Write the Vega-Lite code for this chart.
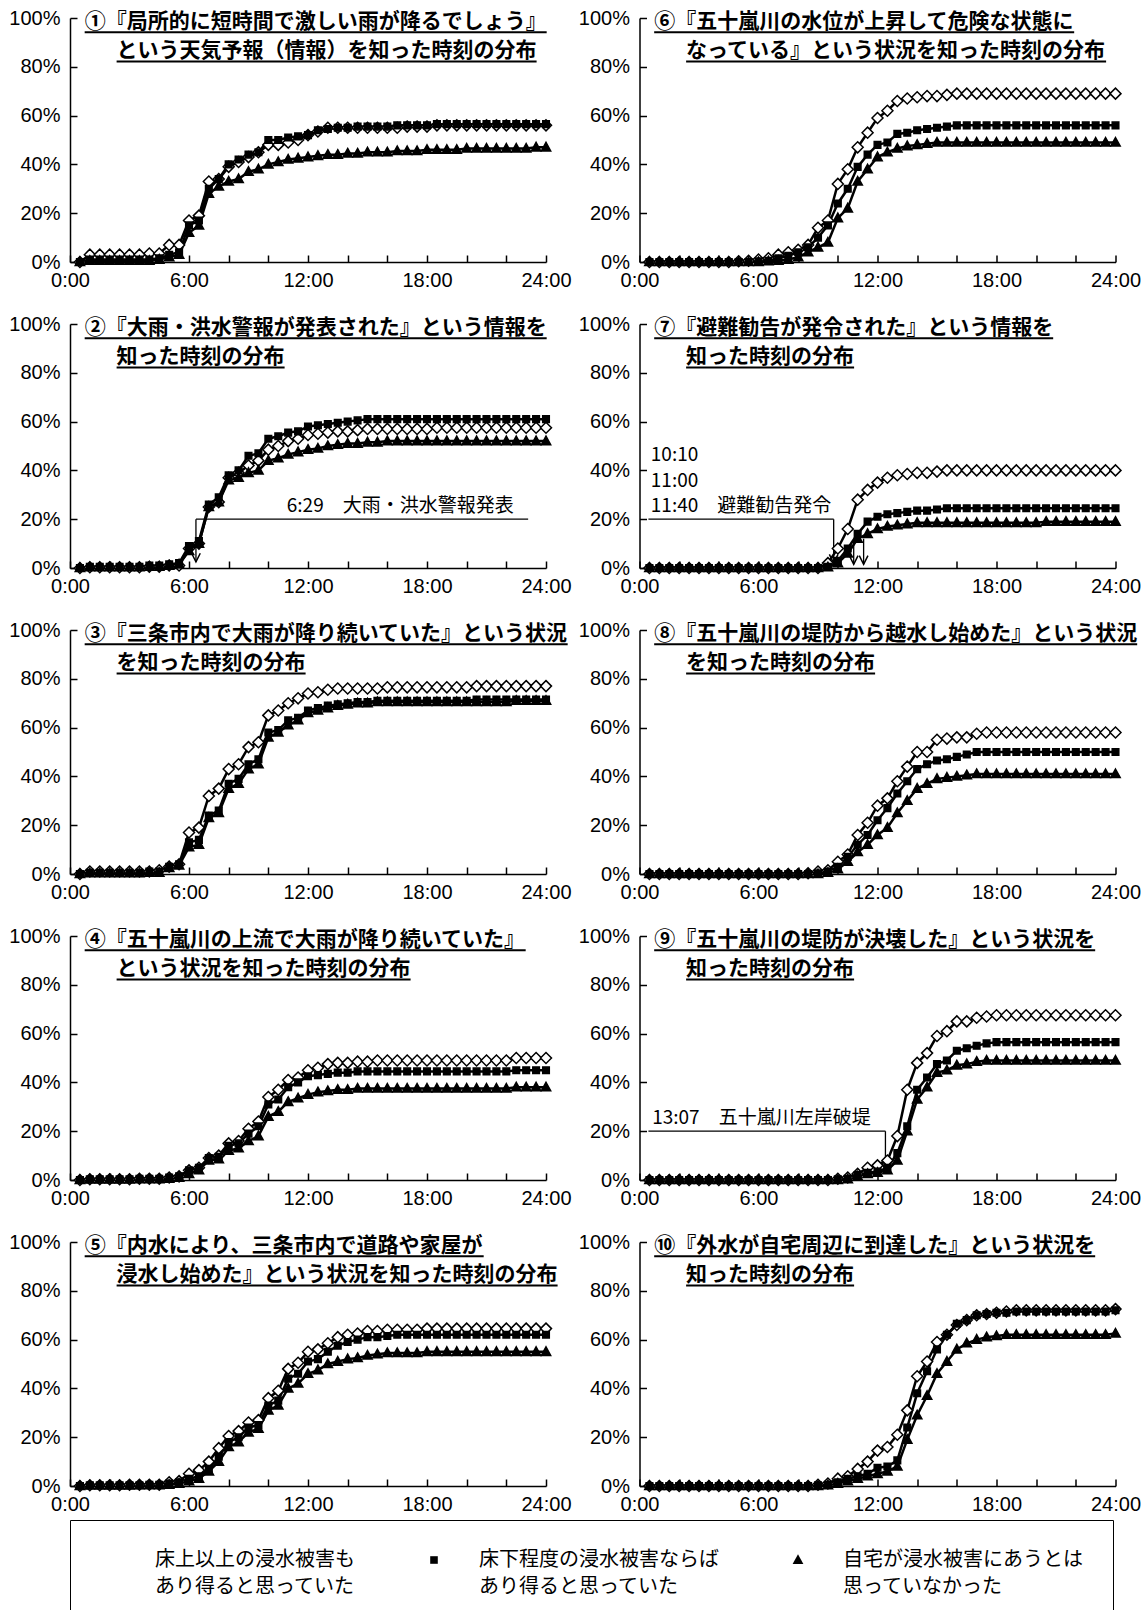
{
"$schema":"https://vega.github.io/schema/vega-lite/v6.json",
"padding":{"left":8,"top":8,"right":5,"bottom":0},
"autosize":{"type":"pad"},
"background":"white",
"config":{
"view":{"stroke":null},
"font":"Noto Sans CJK JP",
"style":{"guide-label":{"lineHeight":27}},
"header":{"labels":false,"title":null,"labelFontSize":0,"labelPadding":0},
"headerFacet":{"labels":false,"title":null,"labelFontSize":0,"labelPadding":0},
"axis":{"grid":false,"title":null,"domainColor":"black","domainWidth":1.5,"tickColor":"black","tickWidth":1.5,"tickSize":-7,"labelColor":"black","labelFont":"Liberation Sans","labelFontSize":20,"labelOverlap":false,"labelFlush":false},
"axisX":{"values":[0,3,6,9,12,15,18,21,24],"labelExpr":"datum.value % 6 == 0 ? datum.value + ':00' : ''","labelPadding":15},
"axisY":{"values":[0,20,40,60,80,100],"labelExpr":"datum.value + '%'","labelPadding":17}
},
"data":{"values":[
{"p":1,"l":1,"txt":"①『局所的に短時間で激しい雨が降るでしょう』"},{"p":1,"l":2,"txt":"という天気予報（情報）を知った時刻の分布"},
{"p":2,"l":1,"txt":"②『大雨・洪水警報が発表された』という情報を"},{"p":2,"l":2,"txt":"知った時刻の分布"},
{"p":3,"l":1,"txt":"③『三条市内で大雨が降り続いていた』という状況"},{"p":3,"l":2,"txt":"を知った時刻の分布"},
{"p":4,"l":1,"txt":"④『五十嵐川の上流で大雨が降り続いていた』"},{"p":4,"l":2,"txt":"という状況を知った時刻の分布"},
{"p":5,"l":1,"txt":"⑤『内水により、三条市内で道路や家屋が"},{"p":5,"l":2,"txt":"浸水し始めた』という状況を知った時刻の分布"},
{"p":6,"l":1,"txt":"⑥『五十嵐川の水位が上昇して危険な状態に"},{"p":6,"l":2,"txt":"なっている』という状況を知った時刻の分布"},
{"p":7,"l":1,"txt":"⑦『避難勧告が発令された』という情報を"},{"p":7,"l":2,"txt":"知った時刻の分布"},
{"p":8,"l":1,"txt":"⑧『五十嵐川の堤防から越水し始めた』という状況"},{"p":8,"l":2,"txt":"を知った時刻の分布"},
{"p":9,"l":1,"txt":"⑨『五十嵐川の堤防が決壊した』という状況を"},{"p":9,"l":2,"txt":"知った時刻の分布"},
{"p":10,"l":1,"txt":"⑩『外水が自宅周辺に到達した』という状況を"},{"p":10,"l":2,"txt":"知った時刻の分布"},
{"p":2,"k":"n","x":10.93,"txt":"6:29　大雨・洪水警報発表"},
{"p":2,"k":"h","x1":6.35,"x2":23.1},
{"p":2,"k":"v","x":6.35,"y1":20,"y2":2.5},
{"p":7,"k":"n","x":0.57,"txt":["10:10","11:00","11:40　避難勧告発令"]},
{"p":7,"k":"h","x1":0.45,"x2":9.79},
{"p":7,"k":"v","x":9.79,"y1":20,"y2":2},
{"p":7,"k":"v","x":10.8,"y1":12,"y2":1.5},
{"p":7,"k":"v","x":11.3,"y1":12,"y2":1.5},
{"p":9,"k":"n","x":0.64,"txt":"13:07　五十嵐川左岸破堤"},
{"p":9,"k":"h","x1":0.45,"x2":12.4},
{"p":9,"k":"v","x":12.4,"y1":20,"y2":4},
{"p":1,"t":0.5,"a":0,"b":0,"c":0},{"p":1,"t":1,"a":3,"b":1,"c":0.5},{"p":1,"t":1.5,"a":3,"b":1,"c":0.5},{"p":1,"t":2,"a":3,"b":1,"c":0.5},{"p":1,"t":2.5,"a":3,"b":1,"c":0.5},{"p":1,"t":3,"a":3,"b":1,"c":0.5},{"p":1,"t":3.5,"a":3,"b":1,"c":0.5},{"p":1,"t":4,"a":3.5,"b":1,"c":0.5},{"p":1,"t":4.5,"a":3.5,"b":1.5,"c":1},{"p":1,"t":5,"a":7,"b":3,"c":2},{"p":1,"t":5.5,"a":7,"b":4,"c":3},{"p":1,"t":6,"a":17,"b":15,"c":12},{"p":1,"t":6.5,"a":19,"b":17,"c":15},{"p":1,"t":7,"a":33,"b":30,"c":28},{"p":1,"t":7.5,"a":34,"b":34,"c":31},{"p":1,"t":8,"a":39,"b":40,"c":33},{"p":1,"t":8.5,"a":41,"b":42,"c":34},{"p":1,"t":9,"a":43,"b":44,"c":37},{"p":1,"t":9.5,"a":45,"b":45,"c":38},{"p":1,"t":10,"a":48,"b":50,"c":40},{"p":1,"t":10.5,"a":48,"b":50,"c":41},{"p":1,"t":11,"a":49,"b":51,"c":42},{"p":1,"t":11.5,"a":50,"b":51.5,"c":42.5},{"p":1,"t":12,"a":52,"b":52,"c":43},{"p":1,"t":12.5,"a":53.5,"b":54,"c":43.5},{"p":1,"t":13,"a":55,"b":54.5,"c":44},{"p":1,"t":13.5,"a":55,"b":55,"c":44},{"p":1,"t":14,"a":55,"b":55,"c":44.5},{"p":1,"t":14.5,"a":55,"b":55.5,"c":44.5},{"p":1,"t":15,"a":55,"b":55.5,"c":45},{"p":1,"t":15.5,"a":55,"b":55.5,"c":45},{"p":1,"t":16,"a":55,"b":55.5,"c":45},{"p":1,"t":16.5,"a":55,"b":56,"c":45.5},{"p":1,"t":17,"a":55.5,"b":56,"c":45.5},{"p":1,"t":17.5,"a":55.5,"b":56,"c":45.5},{"p":1,"t":18,"a":55.5,"b":56,"c":46},{"p":1,"t":18.5,"a":56,"b":56.5,"c":46},{"p":1,"t":19,"a":56,"b":56.5,"c":46},{"p":1,"t":19.5,"a":56,"b":56.5,"c":46},{"p":1,"t":20,"a":56,"b":56.5,"c":46.5},{"p":1,"t":20.5,"a":56,"b":56.5,"c":46.5},{"p":1,"t":21,"a":56,"b":56.5,"c":46.5},{"p":1,"t":21.5,"a":56,"b":56.5,"c":46.5},{"p":1,"t":22,"a":56,"b":56.5,"c":46.5},{"p":1,"t":22.5,"a":56,"b":56.5,"c":46.5},{"p":1,"t":23,"a":56,"b":56.5,"c":46.5},{"p":1,"t":23.5,"a":56,"b":56.5,"c":47},{"p":1,"t":24,"a":56,"b":56.5,"c":47},
{"p":2,"t":0.5,"a":0,"b":0,"c":0},{"p":2,"t":1,"a":0.3,"b":0.5,"c":0.3},{"p":2,"t":1.5,"a":0.3,"b":0.5,"c":0.3},{"p":2,"t":2,"a":0.3,"b":0.5,"c":0.3},{"p":2,"t":2.5,"a":0.3,"b":0.5,"c":0.3},{"p":2,"t":3,"a":0.3,"b":0.5,"c":0.3},{"p":2,"t":3.5,"a":0.3,"b":0.5,"c":0.3},{"p":2,"t":4,"a":0.5,"b":1,"c":0.5},{"p":2,"t":4.5,"a":0.5,"b":1,"c":0.5},{"p":2,"t":5,"a":1,"b":1.5,"c":1},{"p":2,"t":5.5,"a":1,"b":2,"c":1.5},{"p":2,"t":6,"a":8,"b":9,"c":7},{"p":2,"t":6.5,"a":10,"b":11,"c":10},{"p":2,"t":7,"a":25,"b":26,"c":25},{"p":2,"t":7.5,"a":27,"b":29,"c":27},{"p":2,"t":8,"a":37,"b":38,"c":36},{"p":2,"t":8.5,"a":39,"b":40,"c":37},{"p":2,"t":9,"a":42,"b":46,"c":39},{"p":2,"t":9.5,"a":44,"b":47,"c":40},{"p":2,"t":10,"a":48.5,"b":53,"c":44},{"p":2,"t":10.5,"a":50,"b":54,"c":45},{"p":2,"t":11,"a":52,"b":55.5,"c":46.5},{"p":2,"t":11.5,"a":53,"b":56,"c":47.5},{"p":2,"t":12,"a":54.5,"b":58,"c":48.5},{"p":2,"t":12.5,"a":55,"b":58.5,"c":49},{"p":2,"t":13,"a":55.5,"b":59,"c":50},{"p":2,"t":13.5,"a":56,"b":59.5,"c":50.5},{"p":2,"t":14,"a":56,"b":60,"c":51},{"p":2,"t":14.5,"a":56.5,"b":60.5,"c":51},{"p":2,"t":15,"a":57,"b":61,"c":51.5},{"p":2,"t":15.5,"a":57,"b":61,"c":51.5},{"p":2,"t":16,"a":57,"b":61,"c":52},{"p":2,"t":16.5,"a":57,"b":61,"c":52},{"p":2,"t":17,"a":57,"b":61,"c":52},{"p":2,"t":17.5,"a":57,"b":61,"c":52},{"p":2,"t":18,"a":57,"b":61,"c":52},{"p":2,"t":18.5,"a":57.5,"b":61,"c":52},{"p":2,"t":19,"a":57.5,"b":61,"c":52},{"p":2,"t":19.5,"a":57.5,"b":61,"c":52},{"p":2,"t":20,"a":57.5,"b":61,"c":52},{"p":2,"t":20.5,"a":57.5,"b":61,"c":52},{"p":2,"t":21,"a":57.5,"b":61,"c":52},{"p":2,"t":21.5,"a":57.5,"b":61,"c":52},{"p":2,"t":22,"a":57.5,"b":61,"c":52},{"p":2,"t":22.5,"a":57.5,"b":61,"c":52},{"p":2,"t":23,"a":57.5,"b":61,"c":52},{"p":2,"t":23.5,"a":57.5,"b":61,"c":52},{"p":2,"t":24,"a":57.5,"b":61,"c":52},
{"p":3,"t":0.5,"a":0,"b":0,"c":0},{"p":3,"t":1,"a":1,"b":0.5,"c":0.3},{"p":3,"t":1.5,"a":1,"b":0.5,"c":0.3},{"p":3,"t":2,"a":1,"b":0.5,"c":0.3},{"p":3,"t":2.5,"a":1,"b":0.5,"c":0.3},{"p":3,"t":3,"a":1,"b":0.5,"c":0.3},{"p":3,"t":3.5,"a":1,"b":0.5,"c":0.3},{"p":3,"t":4,"a":1,"b":1,"c":0.5},{"p":3,"t":4.5,"a":1.5,"b":1,"c":0.5},{"p":3,"t":5,"a":3,"b":3,"c":2.5},{"p":3,"t":5.5,"a":4,"b":4,"c":3.5},{"p":3,"t":6,"a":17,"b":13,"c":11},{"p":3,"t":6.5,"a":19,"b":14,"c":12},{"p":3,"t":7,"a":32,"b":24,"c":23},{"p":3,"t":7.5,"a":35,"b":26,"c":25},{"p":3,"t":8,"a":43,"b":37,"c":35},{"p":3,"t":8.5,"a":45,"b":39,"c":37},{"p":3,"t":9,"a":52,"b":45,"c":43},{"p":3,"t":9.5,"a":54,"b":47,"c":45},{"p":3,"t":10,"a":65,"b":58,"c":56},{"p":3,"t":10.5,"a":67,"b":59,"c":58},{"p":3,"t":11,"a":70,"b":63,"c":61},{"p":3,"t":11.5,"a":72,"b":64,"c":63},{"p":3,"t":12,"a":74,"b":67,"c":66},{"p":3,"t":12.5,"a":74.5,"b":68,"c":67},{"p":3,"t":13,"a":75.5,"b":69,"c":68},{"p":3,"t":13.5,"a":76,"b":69.5,"c":69},{"p":3,"t":14,"a":76,"b":70,"c":69.5},{"p":3,"t":14.5,"a":76,"b":70.5,"c":70},{"p":3,"t":15,"a":76,"b":70.5,"c":70},{"p":3,"t":15.5,"a":76,"b":71,"c":70.5},{"p":3,"t":16,"a":76.5,"b":71,"c":70.5},{"p":3,"t":16.5,"a":76.5,"b":71,"c":70.5},{"p":3,"t":17,"a":76.5,"b":71,"c":70.5},{"p":3,"t":17.5,"a":76.5,"b":71,"c":70.5},{"p":3,"t":18,"a":76.5,"b":71,"c":70.5},{"p":3,"t":18.5,"a":76.5,"b":71,"c":70.5},{"p":3,"t":19,"a":76.5,"b":71,"c":70.5},{"p":3,"t":19.5,"a":76.5,"b":71,"c":70.5},{"p":3,"t":20,"a":76.5,"b":71,"c":70.5},{"p":3,"t":20.5,"a":77,"b":71.5,"c":70.5},{"p":3,"t":21,"a":77,"b":71.5,"c":70.5},{"p":3,"t":21.5,"a":77,"b":71.5,"c":70.5},{"p":3,"t":22,"a":77,"b":71.5,"c":70.5},{"p":3,"t":22.5,"a":77,"b":71.5,"c":71},{"p":3,"t":23,"a":77,"b":71.5,"c":71},{"p":3,"t":23.5,"a":77,"b":71.5,"c":71},{"p":3,"t":24,"a":77,"b":71.5,"c":71},
{"p":4,"t":0.5,"a":0,"b":0,"c":0},{"p":4,"t":1,"a":0.3,"b":0.3,"c":0.2},{"p":4,"t":1.5,"a":0.3,"b":0.3,"c":0.2},{"p":4,"t":2,"a":0.3,"b":0.3,"c":0.2},{"p":4,"t":2.5,"a":0.3,"b":0.3,"c":0.2},{"p":4,"t":3,"a":0.3,"b":0.3,"c":0.2},{"p":4,"t":3.5,"a":0.5,"b":0.5,"c":0.3},{"p":4,"t":4,"a":0.5,"b":0.5,"c":0.3},{"p":4,"t":4.5,"a":0.5,"b":0.5,"c":0.3},{"p":4,"t":5,"a":1,"b":1,"c":0.5},{"p":4,"t":5.5,"a":1.5,"b":1.5,"c":1},{"p":4,"t":6,"a":4,"b":4,"c":2.5},{"p":4,"t":6.5,"a":5,"b":5,"c":4},{"p":4,"t":7,"a":9,"b":9,"c":8},{"p":4,"t":7.5,"a":10,"b":9.5,"c":8.5},{"p":4,"t":8,"a":15,"b":14,"c":12},{"p":4,"t":8.5,"a":16,"b":15,"c":13},{"p":4,"t":9,"a":21,"b":19,"c":16},{"p":4,"t":9.5,"a":24,"b":22,"c":18},{"p":4,"t":10,"a":34,"b":31,"c":26},{"p":4,"t":10.5,"a":37,"b":33,"c":28},{"p":4,"t":11,"a":41,"b":38,"c":32},{"p":4,"t":11.5,"a":42,"b":40,"c":33.5},{"p":4,"t":12,"a":45,"b":42.5,"c":35},{"p":4,"t":12.5,"a":46,"b":43,"c":36},{"p":4,"t":13,"a":47.5,"b":43.5,"c":36.5},{"p":4,"t":13.5,"a":48,"b":44,"c":37},{"p":4,"t":14,"a":48,"b":44,"c":37},{"p":4,"t":14.5,"a":48.5,"b":44.5,"c":37.5},{"p":4,"t":15,"a":48.5,"b":44.5,"c":37.5},{"p":4,"t":15.5,"a":49,"b":44.5,"c":37.5},{"p":4,"t":16,"a":49,"b":44.5,"c":37.5},{"p":4,"t":16.5,"a":49,"b":44.5,"c":37.5},{"p":4,"t":17,"a":49,"b":44.5,"c":37.5},{"p":4,"t":17.5,"a":49,"b":44.5,"c":37.5},{"p":4,"t":18,"a":49,"b":44.5,"c":37.5},{"p":4,"t":18.5,"a":49,"b":44.5,"c":37.5},{"p":4,"t":19,"a":49,"b":44.5,"c":37.5},{"p":4,"t":19.5,"a":49,"b":44.5,"c":37.5},{"p":4,"t":20,"a":49,"b":44.5,"c":37.5},{"p":4,"t":20.5,"a":49,"b":44.5,"c":37.5},{"p":4,"t":21,"a":49,"b":44.5,"c":37.5},{"p":4,"t":21.5,"a":49,"b":44.5,"c":37.5},{"p":4,"t":22,"a":49,"b":44.5,"c":37.5},{"p":4,"t":22.5,"a":50,"b":45,"c":38},{"p":4,"t":23,"a":50,"b":45,"c":38},{"p":4,"t":23.5,"a":50,"b":45,"c":38},{"p":4,"t":24,"a":50,"b":45,"c":38},
{"p":5,"t":0.5,"a":0,"b":0,"c":0},{"p":5,"t":1,"a":0.3,"b":0.3,"c":0.2},{"p":5,"t":1.5,"a":0.3,"b":0.3,"c":0.2},{"p":5,"t":2,"a":0.3,"b":0.3,"c":0.2},{"p":5,"t":2.5,"a":0.3,"b":0.3,"c":0.2},{"p":5,"t":3,"a":0.5,"b":0.3,"c":0.2},{"p":5,"t":3.5,"a":0.5,"b":0.3,"c":0.3},{"p":5,"t":4,"a":0.5,"b":0.5,"c":0.3},{"p":5,"t":4.5,"a":0.5,"b":0.5,"c":0.3},{"p":5,"t":5,"a":1.5,"b":1,"c":0.5},{"p":5,"t":5.5,"a":2,"b":1.5,"c":1},{"p":5,"t":6,"a":5,"b":3,"c":2},{"p":5,"t":6.5,"a":6.5,"b":4,"c":3},{"p":5,"t":7,"a":10,"b":7,"c":6},{"p":5,"t":7.5,"a":15.5,"b":12,"c":10},{"p":5,"t":8,"a":20.5,"b":18,"c":16},{"p":5,"t":8.5,"a":22.5,"b":20,"c":18},{"p":5,"t":9,"a":26,"b":24,"c":22},{"p":5,"t":9.5,"a":27,"b":25,"c":23.5},{"p":5,"t":10,"a":36,"b":33,"c":31},{"p":5,"t":10.5,"a":39,"b":35,"c":33},{"p":5,"t":11,"a":48,"b":44,"c":40},{"p":5,"t":11.5,"a":50.5,"b":46,"c":42},{"p":5,"t":12,"a":55,"b":51,"c":46},{"p":5,"t":12.5,"a":56,"b":52,"c":47.5},{"p":5,"t":13,"a":58.5,"b":55,"c":50},{"p":5,"t":13.5,"a":61,"b":57.5,"c":51},{"p":5,"t":14,"a":62,"b":59,"c":52},{"p":5,"t":14.5,"a":62.5,"b":60,"c":52.5},{"p":5,"t":15,"a":63.5,"b":61,"c":53.5},{"p":5,"t":15.5,"a":63.5,"b":61,"c":54},{"p":5,"t":16,"a":64,"b":61.5,"c":54.5},{"p":5,"t":16.5,"a":64,"b":62,"c":54.5},{"p":5,"t":17,"a":64,"b":62,"c":54.5},{"p":5,"t":17.5,"a":64,"b":62,"c":54.5},{"p":5,"t":18,"a":64.5,"b":62,"c":55},{"p":5,"t":18.5,"a":64.5,"b":62,"c":55},{"p":5,"t":19,"a":64.5,"b":62,"c":55},{"p":5,"t":19.5,"a":64.5,"b":62,"c":55},{"p":5,"t":20,"a":64.5,"b":62,"c":55},{"p":5,"t":20.5,"a":64.5,"b":62,"c":55},{"p":5,"t":21,"a":64.5,"b":62,"c":55},{"p":5,"t":21.5,"a":64.5,"b":62,"c":55},{"p":5,"t":22,"a":64.5,"b":62,"c":55},{"p":5,"t":22.5,"a":64.5,"b":62,"c":55},{"p":5,"t":23,"a":64.5,"b":62,"c":55},{"p":5,"t":23.5,"a":64.5,"b":62,"c":55},{"p":5,"t":24,"a":64.5,"b":62,"c":55},
{"p":6,"t":0.5,"a":0,"b":0,"c":0},{"p":6,"t":1,"a":0,"b":0,"c":0},{"p":6,"t":1.5,"a":0,"b":0,"c":0},{"p":6,"t":2,"a":0,"b":0,"c":0},{"p":6,"t":2.5,"a":0,"b":0,"c":0},{"p":6,"t":3,"a":0,"b":0,"c":0},{"p":6,"t":3.5,"a":0,"b":0,"c":0},{"p":6,"t":4,"a":0,"b":0,"c":0},{"p":6,"t":4.5,"a":0,"b":0,"c":0},{"p":6,"t":5,"a":0.3,"b":0,"c":0},{"p":6,"t":5.5,"a":0.5,"b":0,"c":0},{"p":6,"t":6,"a":1,"b":0.3,"c":0},{"p":6,"t":6.5,"a":1.5,"b":0.5,"c":0.3},{"p":6,"t":7,"a":3,"b":1.5,"c":0.5},{"p":6,"t":7.5,"a":4,"b":2.5,"c":1},{"p":6,"t":8,"a":5,"b":4,"c":2},{"p":6,"t":8.5,"a":7,"b":6,"c":4},{"p":6,"t":9,"a":14,"b":10,"c":6},{"p":6,"t":9.5,"a":17,"b":15,"c":8},{"p":6,"t":10,"a":32,"b":24,"c":18},{"p":6,"t":10.5,"a":38,"b":30,"c":22},{"p":6,"t":11,"a":47,"b":39,"c":33},{"p":6,"t":11.5,"a":53,"b":44,"c":38},{"p":6,"t":12,"a":59,"b":48,"c":43},{"p":6,"t":12.5,"a":62,"b":49,"c":45},{"p":6,"t":13,"a":66,"b":52.5,"c":46.5},{"p":6,"t":13.5,"a":67,"b":53,"c":47.5},{"p":6,"t":14,"a":67.5,"b":54,"c":48},{"p":6,"t":14.5,"a":68,"b":54.5,"c":48.5},{"p":6,"t":15,"a":68,"b":55,"c":49},{"p":6,"t":15.5,"a":68.5,"b":55.5,"c":49},{"p":6,"t":16,"a":69,"b":56,"c":49},{"p":6,"t":16.5,"a":69,"b":56,"c":49},{"p":6,"t":17,"a":69,"b":56,"c":49},{"p":6,"t":17.5,"a":69,"b":56,"c":49},{"p":6,"t":18,"a":69,"b":56,"c":49},{"p":6,"t":18.5,"a":69,"b":56,"c":49},{"p":6,"t":19,"a":69,"b":56,"c":49},{"p":6,"t":19.5,"a":69,"b":56,"c":49},{"p":6,"t":20,"a":69,"b":56,"c":49},{"p":6,"t":20.5,"a":69,"b":56,"c":49},{"p":6,"t":21,"a":69,"b":56,"c":49},{"p":6,"t":21.5,"a":69,"b":56,"c":49},{"p":6,"t":22,"a":69,"b":56,"c":49},{"p":6,"t":22.5,"a":69,"b":56,"c":49},{"p":6,"t":23,"a":69,"b":56,"c":49},{"p":6,"t":23.5,"a":69,"b":56,"c":49},{"p":6,"t":24,"a":69,"b":56,"c":49},
{"p":7,"t":0.5,"a":0,"b":0,"c":0},{"p":7,"t":1,"a":0,"b":0,"c":0},{"p":7,"t":1.5,"a":0,"b":0,"c":0},{"p":7,"t":2,"a":0,"b":0,"c":0},{"p":7,"t":2.5,"a":0,"b":0,"c":0},{"p":7,"t":3,"a":0,"b":0,"c":0},{"p":7,"t":3.5,"a":0,"b":0,"c":0},{"p":7,"t":4,"a":0,"b":0,"c":0},{"p":7,"t":4.5,"a":0,"b":0,"c":0},{"p":7,"t":5,"a":0,"b":0,"c":0},{"p":7,"t":5.5,"a":0,"b":0,"c":0},{"p":7,"t":6,"a":0,"b":0,"c":0},{"p":7,"t":6.5,"a":0,"b":0,"c":0},{"p":7,"t":7,"a":0,"b":0,"c":0},{"p":7,"t":7.5,"a":0,"b":0,"c":0},{"p":7,"t":8,"a":0,"b":0,"c":0},{"p":7,"t":8.5,"a":0,"b":0,"c":0},{"p":7,"t":9,"a":0,"b":0,"c":0},{"p":7,"t":9.5,"a":2,"b":0.5,"c":0.3},{"p":7,"t":10,"a":8,"b":3,"c":2},{"p":7,"t":10.5,"a":16,"b":8,"c":6},{"p":7,"t":11,"a":28,"b":14,"c":12},{"p":7,"t":11.5,"a":32,"b":19,"c":14},{"p":7,"t":12,"a":35,"b":21,"c":16},{"p":7,"t":12.5,"a":37,"b":22,"c":17},{"p":7,"t":13,"a":38,"b":22.5,"c":17.5},{"p":7,"t":13.5,"a":38.5,"b":23,"c":18},{"p":7,"t":14,"a":39,"b":23.5,"c":18.5},{"p":7,"t":14.5,"a":39,"b":23.5,"c":18.5},{"p":7,"t":15,"a":39.5,"b":24,"c":18.5},{"p":7,"t":15.5,"a":40,"b":24.5,"c":18.5},{"p":7,"t":16,"a":40,"b":24.5,"c":18.5},{"p":7,"t":16.5,"a":40,"b":24.5,"c":18.5},{"p":7,"t":17,"a":40,"b":24.5,"c":18.5},{"p":7,"t":17.5,"a":40,"b":24.5,"c":18.5},{"p":7,"t":18,"a":40,"b":24.5,"c":18.5},{"p":7,"t":18.5,"a":40,"b":24.5,"c":18.5},{"p":7,"t":19,"a":40,"b":24.5,"c":18.5},{"p":7,"t":19.5,"a":40,"b":24.5,"c":18.5},{"p":7,"t":20,"a":40,"b":24.5,"c":18.5},{"p":7,"t":20.5,"a":40,"b":24.5,"c":19},{"p":7,"t":21,"a":40,"b":24.5,"c":19},{"p":7,"t":21.5,"a":40,"b":24.5,"c":19},{"p":7,"t":22,"a":40,"b":24.5,"c":19},{"p":7,"t":22.5,"a":40,"b":24.5,"c":19},{"p":7,"t":23,"a":40,"b":24.5,"c":19},{"p":7,"t":23.5,"a":40,"b":24.5,"c":19},{"p":7,"t":24,"a":40,"b":24.5,"c":19},
{"p":8,"t":0.5,"a":0,"b":0,"c":0},{"p":8,"t":1,"a":0,"b":0,"c":0},{"p":8,"t":1.5,"a":0,"b":0,"c":0},{"p":8,"t":2,"a":0,"b":0,"c":0},{"p":8,"t":2.5,"a":0,"b":0,"c":0},{"p":8,"t":3,"a":0,"b":0,"c":0},{"p":8,"t":3.5,"a":0,"b":0,"c":0},{"p":8,"t":4,"a":0,"b":0,"c":0},{"p":8,"t":4.5,"a":0,"b":0,"c":0},{"p":8,"t":5,"a":0,"b":0,"c":0},{"p":8,"t":5.5,"a":0,"b":0,"c":0},{"p":8,"t":6,"a":0,"b":0,"c":0},{"p":8,"t":6.5,"a":0,"b":0,"c":0},{"p":8,"t":7,"a":0,"b":0,"c":0},{"p":8,"t":7.5,"a":0,"b":0,"c":0},{"p":8,"t":8,"a":0,"b":0,"c":0},{"p":8,"t":8.5,"a":0.3,"b":0,"c":0},{"p":8,"t":9,"a":1,"b":0.3,"c":0},{"p":8,"t":9.5,"a":1.5,"b":1,"c":0.5},{"p":8,"t":10,"a":5,"b":3,"c":2},{"p":8,"t":10.5,"a":8,"b":7,"c":5},{"p":8,"t":11,"a":16,"b":12,"c":9},{"p":8,"t":11.5,"a":21,"b":16,"c":12},{"p":8,"t":12,"a":28,"b":22,"c":16},{"p":8,"t":12.5,"a":31,"b":27,"c":19},{"p":8,"t":13,"a":38,"b":33,"c":25},{"p":8,"t":13.5,"a":44,"b":38,"c":30},{"p":8,"t":14,"a":50,"b":43,"c":35},{"p":8,"t":14.5,"a":50,"b":45,"c":37},{"p":8,"t":15,"a":55,"b":46.5,"c":39},{"p":8,"t":15.5,"a":55.5,"b":47,"c":39.5},{"p":8,"t":16,"a":56,"b":48,"c":40},{"p":8,"t":16.5,"a":56,"b":49,"c":40.5},{"p":8,"t":17,"a":57.5,"b":50,"c":41},{"p":8,"t":17.5,"a":58,"b":50,"c":41},{"p":8,"t":18,"a":58,"b":50,"c":41},{"p":8,"t":18.5,"a":58,"b":50,"c":41},{"p":8,"t":19,"a":58,"b":50,"c":41},{"p":8,"t":19.5,"a":58,"b":50,"c":41},{"p":8,"t":20,"a":58,"b":50,"c":41},{"p":8,"t":20.5,"a":58,"b":50,"c":41},{"p":8,"t":21,"a":58,"b":50,"c":41},{"p":8,"t":21.5,"a":58,"b":50,"c":41},{"p":8,"t":22,"a":58,"b":50,"c":41},{"p":8,"t":22.5,"a":58,"b":50,"c":41},{"p":8,"t":23,"a":58,"b":50,"c":41},{"p":8,"t":23.5,"a":58,"b":50,"c":41},{"p":8,"t":24,"a":58,"b":50,"c":41},
{"p":9,"t":0.5,"a":0,"b":0,"c":0},{"p":9,"t":1,"a":0,"b":0,"c":0},{"p":9,"t":1.5,"a":0,"b":0,"c":0},{"p":9,"t":2,"a":0,"b":0,"c":0},{"p":9,"t":2.5,"a":0,"b":0,"c":0},{"p":9,"t":3,"a":0,"b":0,"c":0},{"p":9,"t":3.5,"a":0,"b":0,"c":0},{"p":9,"t":4,"a":0,"b":0,"c":0},{"p":9,"t":4.5,"a":0,"b":0,"c":0},{"p":9,"t":5,"a":0,"b":0,"c":0},{"p":9,"t":5.5,"a":0,"b":0,"c":0},{"p":9,"t":6,"a":0,"b":0,"c":0},{"p":9,"t":6.5,"a":0,"b":0,"c":0},{"p":9,"t":7,"a":0,"b":0,"c":0},{"p":9,"t":7.5,"a":0,"b":0,"c":0},{"p":9,"t":8,"a":0,"b":0,"c":0},{"p":9,"t":8.5,"a":0,"b":0,"c":0},{"p":9,"t":9,"a":0,"b":0,"c":0},{"p":9,"t":9.5,"a":0,"b":0,"c":0},{"p":9,"t":10,"a":0.5,"b":0.3,"c":0},{"p":9,"t":10.5,"a":1,"b":0.5,"c":0.3},{"p":9,"t":11,"a":2.5,"b":2,"c":1.5},{"p":9,"t":11.5,"a":5,"b":3,"c":2.5},{"p":9,"t":12,"a":6,"b":3.5,"c":3},{"p":9,"t":12.5,"a":8,"b":5,"c":4},{"p":9,"t":13,"a":18,"b":11,"c":8},{"p":9,"t":13.5,"a":37,"b":22,"c":20},{"p":9,"t":14,"a":48,"b":37,"c":33},{"p":9,"t":14.5,"a":52,"b":42,"c":38},{"p":9,"t":15,"a":59,"b":47.5,"c":44},{"p":9,"t":15.5,"a":61,"b":49,"c":45},{"p":9,"t":16,"a":65,"b":53,"c":47},{"p":9,"t":16.5,"a":65,"b":54,"c":47.5},{"p":9,"t":17,"a":66.5,"b":55,"c":48.5},{"p":9,"t":17.5,"a":67,"b":56,"c":49},{"p":9,"t":18,"a":67.5,"b":56.5,"c":49},{"p":9,"t":18.5,"a":67.5,"b":56.5,"c":49},{"p":9,"t":19,"a":67.5,"b":56.5,"c":49},{"p":9,"t":19.5,"a":67.5,"b":56.5,"c":49},{"p":9,"t":20,"a":67.5,"b":56.5,"c":49},{"p":9,"t":20.5,"a":67.5,"b":56.5,"c":49},{"p":9,"t":21,"a":67.5,"b":56.5,"c":49},{"p":9,"t":21.5,"a":67.5,"b":56.5,"c":49},{"p":9,"t":22,"a":67.5,"b":56.5,"c":49},{"p":9,"t":22.5,"a":67.5,"b":56.5,"c":49},{"p":9,"t":23,"a":67.5,"b":56.5,"c":49},{"p":9,"t":23.5,"a":67.5,"b":56.5,"c":49},{"p":9,"t":24,"a":67.5,"b":56.5,"c":49},
{"p":10,"t":0.5,"a":0,"b":0,"c":0},{"p":10,"t":1,"a":0,"b":0,"c":0},{"p":10,"t":1.5,"a":0,"b":0,"c":0},{"p":10,"t":2,"a":0,"b":0,"c":0},{"p":10,"t":2.5,"a":0,"b":0,"c":0},{"p":10,"t":3,"a":0,"b":0,"c":0},{"p":10,"t":3.5,"a":0,"b":0,"c":0},{"p":10,"t":4,"a":0,"b":0,"c":0},{"p":10,"t":4.5,"a":0,"b":0,"c":0},{"p":10,"t":5,"a":0,"b":0,"c":0},{"p":10,"t":5.5,"a":0,"b":0,"c":0},{"p":10,"t":6,"a":0,"b":0,"c":0},{"p":10,"t":6.5,"a":0,"b":0,"c":0},{"p":10,"t":7,"a":0,"b":0,"c":0},{"p":10,"t":7.5,"a":0,"b":0,"c":0},{"p":10,"t":8,"a":0,"b":0,"c":0},{"p":10,"t":8.5,"a":0,"b":0,"c":0},{"p":10,"t":9,"a":0.5,"b":0.3,"c":0},{"p":10,"t":9.5,"a":1,"b":0.5,"c":0.3},{"p":10,"t":10,"a":3,"b":1.5,"c":1},{"p":10,"t":10.5,"a":4,"b":3,"c":2},{"p":10,"t":11,"a":7,"b":4,"c":3},{"p":10,"t":11.5,"a":10,"b":5,"c":4},{"p":10,"t":12,"a":14.5,"b":7.5,"c":5},{"p":10,"t":12.5,"a":16,"b":8,"c":6},{"p":10,"t":13,"a":21,"b":10.5,"c":8},{"p":10,"t":13.5,"a":31,"b":24,"c":19},{"p":10,"t":14,"a":45,"b":38,"c":29},{"p":10,"t":14.5,"a":51,"b":47,"c":37},{"p":10,"t":15,"a":59,"b":56,"c":46},{"p":10,"t":15.5,"a":62,"b":62,"c":51},{"p":10,"t":16,"a":66,"b":66.5,"c":56},{"p":10,"t":16.5,"a":68,"b":68,"c":58.5},{"p":10,"t":17,"a":70,"b":70,"c":60},{"p":10,"t":17.5,"a":70.5,"b":70.5,"c":61},{"p":10,"t":18,"a":71,"b":71,"c":61.5},{"p":10,"t":18.5,"a":71.5,"b":71,"c":62},{"p":10,"t":19,"a":72,"b":71.5,"c":62},{"p":10,"t":19.5,"a":72,"b":71.5,"c":62},{"p":10,"t":20,"a":72,"b":71.5,"c":62},{"p":10,"t":20.5,"a":72,"b":71.5,"c":62},{"p":10,"t":21,"a":72,"b":71.5,"c":62},{"p":10,"t":21.5,"a":72,"b":71.5,"c":62},{"p":10,"t":22,"a":72,"b":71.5,"c":62},{"p":10,"t":22.5,"a":72,"b":71.5,"c":62},{"p":10,"t":23,"a":72,"b":71.5,"c":62},{"p":10,"t":23.5,"a":72,"b":71.5,"c":62},{"p":10,"t":24,"a":72.5,"b":72,"c":62.5}
]},
"facet":{"field":"p","type":"ordinal","sort":[1,6,2,7,3,8,4,9,5,10],"header":{"title":null,"labels":false,"labelExpr":"''","labelFontSize":0,"labelPadding":0}},
"columns":2,
"spacing":{"row":62,"column":93.5},
"bounds":"flush",
"resolve":{"axis":{"x":"independent","y":"independent"}},
"spec":{
"width":476,"height":244,
"layer":[
{"transform":[{"filter":"isValid(datum.t)"},{"fold":["a","b","c"],"as":["s","v"]}],
 "mark":{"type":"line","color":"black","strokeWidth":2.5},
 "encoding":{"x":{"field":"t","type":"quantitative","scale":{"domain":[0,24],"nice":false,"zero":false}},"y":{"field":"v","type":"quantitative","scale":{"domain":[0,100],"nice":false}},"detail":{"field":"s","type":"nominal"}}},
{"transform":[{"filter":"datum.k == 'h'"}],
 "mark":{"type":"rule","color":"black","strokeWidth":1.3},
 "encoding":{"x":{"field":"x1","type":"quantitative"},"x2":{"field":"x2"},"y":{"datum":20,"type":"quantitative"}}},
{"transform":[{"filter":"datum.k == 'v'"}],
 "mark":{"type":"rule","color":"black","strokeWidth":1.3},
 "encoding":{"x":{"field":"x","type":"quantitative"},"y":{"field":"y1","type":"quantitative"},"y2":{"field":"y2"}}},
{"transform":[{"filter":"datum.k == 'v'"}],
 "mark":{"type":"point","shape":"M-0.5,-1L0,0L0.5,-1","filled":false,"stroke":"black","strokeWidth":1.5,"size":300,"opacity":1},
 "encoding":{"x":{"field":"x","type":"quantitative"},"y":{"field":"y2","type":"quantitative"}}},
{"transform":[{"filter":"datum.k == 'n'"},{"calculate":"isArray(datum.txt) ? 20 + (length(datum.txt) - 1) * 25.5 / 2.44 : 20","as":"ty"}],
 "mark":{"type":"text","align":"left","baseline":"bottom","dy":-3,"fontSize":19,"lineHeight":25.5,"color":"black","font":"Noto Sans CJK JP"},
 "encoding":{"x":{"field":"x","type":"quantitative"},"y":{"field":"ty","type":"quantitative"},"text":{"field":"txt","type":"nominal"}}},
{"transform":[{"filter":"isValid(datum.t)"},{"fold":["a","b","c"],"as":["s","v"]}],
 "mark":{"type":"point","filled":true,"stroke":"black","strokeWidth":1.5,"opacity":1,"size":121},
 "encoding":{"x":{"field":"t","type":"quantitative"},"y":{"field":"v","type":"quantitative"},
  "fill":{"field":"s","type":"nominal","scale":{"domain":["a","b","c"],"range":["white","black","black"]}},
  "shape":{"field":"s","type":"nominal","scale":{"domain":["a","b","c"],"range":["M-1,0L0,-1L1,0L0,1Z","M-0.6,-0.6H0.6V0.6H-0.6Z","M0,-0.9L0.85,0.65H-0.85Z"]},
   "legend":{"orient":"bottom","offset":6,"direction":"horizontal","columns":3,"title":null,
    "labelExpr":"datum.value == 'a' ? ['床上以上の浸水被害も','あり得ると思っていた'] : datum.value == 'b' ? ['床下程度の浸水被害ならば','あり得ると思っていた'] : ['自宅が浸水被害にあうとは','思っていなかった']",
    "labelFont":"Noto Sans CJK JP","labelFontSize":20,"labelColor":"black","labelLimit":400,"labelOffset":35,
    "columnPadding":69,"padding":30,"strokeColor":"black","symbolSize":160,"symbolStrokeWidth":1.5,"symbolStrokeColor":"black"}}}},
{"transform":[{"filter":"datum.l == 1"}],
 "mark":{"type":"text","align":"left","baseline":"middle","fontSize":21,"fontWeight":"bold","color":"black","font":"Noto Sans CJK JP"},
 "encoding":{"x":{"datum":0.74,"type":"quantitative"},"y":{"datum":98.5,"type":"quantitative"},"text":{"field":"txt","type":"nominal"}}},
{"transform":[{"filter":"datum.l == 2"}],
 "mark":{"type":"text","align":"left","baseline":"middle","fontSize":21,"fontWeight":"bold","color":"black","font":"Noto Sans CJK JP"},
 "encoding":{"x":{"datum":2.35,"type":"quantitative"},"y":{"datum":86.4,"type":"quantitative"},"text":{"field":"txt","type":"nominal"}}},
{"transform":[{"filter":"isValid(datum.l)"},{"calculate":"datum.l == 1 ? 0.74 : 2.35","as":"u0"},{"calculate":"datum.u0 + length(datum.txt) * 21 * 24 / 476","as":"u1"},{"calculate":"datum.l == 1 ? 94.2 : 82.2","as":"uy"}],
 "mark":{"type":"rule","color":"black","strokeWidth":2},
 "encoding":{"x":{"field":"u0","type":"quantitative"},"x2":{"field":"u1"},"y":{"field":"uy","type":"quantitative"}}}
]}
}
